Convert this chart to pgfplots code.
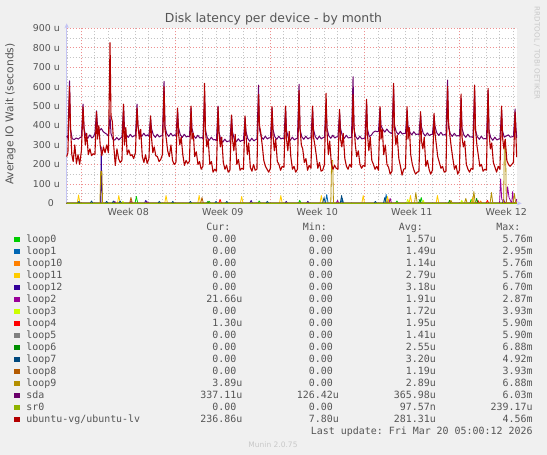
\documentclass[border=0pt]{standalone}
\usepackage{fontspec}
\setmainfont{DejaVu Sans}
\newfontfamily\monofont{DejaVu Sans Mono}
\usepackage{pgfplots}
\pgfplotsset{compat=1.18}
\usetikzlibrary{arrows.meta}
\frenchspacing

\definecolor{bg}{HTML}{F0F0F0}
\definecolor{txt}{HTML}{555555}
\definecolor{faint}{HTML}{C8C8C8}
\definecolor{axisline}{HTML}{C4C4F4}
\definecolor{majgrid}{HTML}{EE9090}
\definecolor{mingrid}{HTML}{C4C4C4}
% munin palette
\definecolor{cloop0}{HTML}{00CC00}
\definecolor{cloop1}{HTML}{0066B3}
\definecolor{cloop10}{HTML}{FF8000}
\definecolor{cloop11}{HTML}{FFCC00}
\definecolor{cloop12}{HTML}{330099}
\definecolor{cloop2}{HTML}{990099}
\definecolor{cloop3}{HTML}{CCFF00}
\definecolor{cloop4}{HTML}{FF0000}
\definecolor{cloop5}{HTML}{808080}
\definecolor{cloop6}{HTML}{008F00}
\definecolor{cloop7}{HTML}{00487D}
\definecolor{cloop8}{HTML}{B35A00}
\definecolor{cloop9}{HTML}{B38F00}
\definecolor{csda}{HTML}{6B006B}
\definecolor{csr}{HTML}{8FB300}
\definecolor{clv}{HTML}{B30000}

\newcommand{\z}{0.00\hphantom{u}}
% row, colour, name, cur, min, avg, max
\newcommand{\legrow}[7]{%
  \pgfmathsetmacro{\by}{212.5-12*#1}%
  \fill[#2] (14,\by+0.2) rectangle (20,\by+5.8);
  \node[anchor=base west] at (26.2,\by) {#3};
  \node[anchor=base east] at (242.6,\by) {#4};
  \node[anchor=base east] at (339,\by) {#5};
  \node[anchor=base east] at (436,\by) {#6};
  \node[anchor=base east] at (532.8,\by) {#7};
}

\begin{document}
\begin{tikzpicture}
\fill[bg] (0,0) rectangle (547bp,455bp);
\useasboundingbox (0,0) rectangle (547bp,455bp);

\begin{axis}[
  at={(66.7bp,251.7bp)}, anchor=south west,
  scale only axis, width=450bp, height=175bp,
  xmin=-1.06, xmax=32.27, ymin=0, ymax=900,
  clip=false,
  axis background/.style={fill=white},
  axis x line=bottom, axis y line=left,
  axis line style={draw=axisline, line width=0.8bp, -{Stealth[length=5bp,width=4.5bp]}, shorten >=-5bp},
  tick style={draw=none}, major tick length=0pt, minor tick length=0pt,
  xtick={3.5,10.5,17.5,24.5,31.5},
  xticklabels={Week 08,Week 09,Week 10,Week 11,Week 12},
  xticklabel style={font=\fontsize{9.5bp}{10bp}\selectfont, text=txt, anchor=base, yshift=-12.7bp},
  minor xtick={-1,0,...,32},
  extra x ticks={0,7,14,21,28}, extra x tick labels={},
  extra x tick style={grid=major},
  ytick={0,100,...,900},
  yticklabels={0\hphantom{u},100 u,200 u,300 u,400 u,500 u,600 u,700 u,800 u,900 u},
  yticklabel style={font=\fontsize{9.4bp}{10bp}\selectfont, text=txt, anchor=east, inner sep=0pt, xshift=-6.7bp},
  minor ytick={50,150,...,850},
  ymajorgrids, yminorgrids, xminorgrids,
  major grid style={draw=majgrid, line width=0.6bp, dash pattern=on 1bp off 2bp},
  minor grid style={draw=mingrid, line width=0.6bp, dash pattern=on 1bp off 2bp},
  every axis plot/.append style={line width=0.8bp, line join=round},
]
% loop devices: zero with short bursts
\addplot[cloop0] coordinates {(-1.06,0)(4.0,0)(4.1,35)(4.2,0)(9.4,0)(9.5,10)(9.6,0)(13.1,0)(13.2,12)(13.3,0)(16.1,0)(16.2,15)(16.3,0)(23.3,0)(23.4,12)(23.5,0)(25.1,0)(25.2,30)(25.3,0)(28.8,0)(28.9,20)(29.0,0)(32.27,0)};
\addplot[cloop1] coordinates {(-1.06,0)(18.1,0)(18.2,45)(18.3,0)(19.25,0)(19.35,25)(19.45,0)(22.5,0)(22.6,45)(22.7,0)(32.27,0)};
\addplot[cloop10] coordinates {(-1.06,0)(22.7,0)(22.8,20)(22.9,0)(29.5,0)(29.6,12)(29.7,0)(32.27,0)};
\addplot[cloop11] coordinates {(-1.06,0)(-0.28,0)(-0.18,43)(-0.08,0)(2.7,0)(2.8,40)(2.9,0)(6.2,0)(6.3,40)(6.4,0)(8.65,0)(8.75,40)(8.85,0)(11.8,0)(11.9,35)(12.0,0)(14.7,0)(14.8,40)(14.9,0)(17.7,0)(17.8,40)(17.9,0)(20.8,0)(20.9,40)(21.0,0)(22.6,0)(22.7,35)(22.8,0)(24.3,0)(24.4,40)(24.5,0)(26.3,0)(26.4,40)(26.5,0)(28.9,0)(29.0,30)(29.1,0)(32.27,0)};
\addplot[cloop12] coordinates {(-1.06,0)(1.44,0)(1.5,290)(1.56,0)(4.7,0)(4.8,15)(4.9,0)(12.5,0)(12.6,15)(12.7,0)(15.1,0)(15.2,10)(15.3,0)(16.7,0)(16.8,10)(16.9,0)(31.2,0)(31.3,20)(31.4,0)(32.27,0)};
\addplot[cloop2] coordinates {(-1.06,0)(2.4,0)(2.5,10)(2.6,0)(3.6,0)(3.7,12)(3.8,0)(4.85,0)(4.95,8)(5.05,0)(18.9,0)(19.0,15)(19.1,0)(22.8,0)(22.9,25)(23.0,0)(31.0,0)(31.08,125)(31.16,20)(31.5,0)(31.6,85)(31.7,30)(31.9,0)(31.97,60)(32.05,0)(32.2,0)(32.27,22)};
\addplot[cloop3] coordinates {(-1.06,0)(3.0,0)(3.1,10)(3.2,0)(24.1,0)(24.2,20)(24.3,0)(25.25,0)(25.35,15)(25.45,0)(28.1,0)(28.2,15)(28.3,0)(32.27,0)};
\addplot[cloop4] coordinates {(-1.06,0)(10.2,0)(10.3,20)(10.4,0)(29.3,0)(29.4,15)(29.5,0)(30.0,0)(30.1,15)(30.2,0)(32.27,1.3)};
\addplot[cloop5] coordinates {(-1.06,0)(32.27,0)};
\addplot[cloop6] coordinates {(-1.06,0)(9.3,0)(9.4,10)(9.5,0)(25.0,0)(25.1,20)(25.2,0)(27.2,0)(27.3,15)(27.4,0)(29.2,0)(29.3,25)(29.4,0)(32.27,0)};
\addplot[cloop7] coordinates {(-1.06,0)(-0.26,0)(-0.16,10)(-0.06,0)(0.68,0)(0.78,12)(0.88,0)(1.8,0)(1.9,10)(2.0,0)(2.3,0)(2.4,12)(2.5,0)(2.8,0)(2.9,12)(3.0,0)(5.7,0)(5.8,10)(5.9,0)(6.7,0)(6.8,10)(6.9,0)(8.0,0)(8.1,10)(8.2,0)(9.9,0)(10.0,10)(10.1,0)(10.7,0)(10.8,10)(10.9,0)(13.7,0)(13.8,10)(13.9,0)(17.9,0)(18.0,30)(18.1,0)(19.2,0)(19.3,40)(19.4,0)(21.7,0)(21.8,10)(21.9,0)(22.4,0)(22.5,30)(22.6,0)(32.27,0)};
\addplot[cloop8] coordinates {(-1.06,0)(3.6,0)(3.7,30)(3.8,0)(8.86,0)(8.96,30)(9.06,0)(32.27,0)};
\addplot[cloop9] coordinates {(-1.06,0)(1.4,0)(1.46,165)(1.54,165)(1.6,0)(18.5,0)(18.56,220)(18.64,220)(18.7,0)(24.7,0)(24.8,55)(24.9,0)(27.3,0)(27.4,15)(27.5,0)(28.4,0)(28.5,25)(28.6,0)(29.0,0)(29.1,60)(29.2,0)(30.3,0)(30.4,55)(30.5,0)(31.3,0)(31.36,320)(31.44,320)(31.5,0)(32.0,0)(32.1,50)(32.2,0)(32.27,3.9)};
% sda
\addplot[csda, line width=1bp] coordinates {
(-1.06,345)(-0.97,335)(-0.85,630)(-0.78,380)(-0.65,332)(-0.5,328)(-0.35,336)(-0.2,330)(-0.08,338)
(0.03,340)(0.15,510)(0.22,385)(0.35,348)(0.5,334)(0.65,352)(0.8,336)(0.92,342)
(1.03,360)(1.15,475)(1.22,400)(1.35,372)(1.5,385)(1.65,368)(1.8,360)(1.92,355)
(2.03,345)(2.15,450)(2.22,360)(2.35,330)(2.5,325)(2.65,338)(2.8,326)(2.92,335)
(3.03,340)(3.15,500)(3.22,390)(3.35,352)(3.5,339)(3.65,355)(3.8,341)(3.92,347)
(4.03,348)(4.15,510)(4.22,395)(4.35,358)(4.5,344)(4.65,360)(4.8,346)(4.92,352)
(5.03,345)(5.15,440)(5.22,385)(5.35,353)(5.5,339)(5.65,355)(5.8,341)(5.92,347)
(6.03,348)(6.15,627)(6.22,395)(6.35,358)(6.5,344)(6.65,360)(6.8,346)(6.92,352)
(7.03,347)(7.15,480)(7.22,390)(7.35,353)(7.5,339)(7.65,355)(7.8,341)(7.92,345)
(8.03,342)(8.15,490)(8.22,385)(8.35,348)(8.5,334)(8.65,350)(8.8,336)(8.92,338)
(9.03,333)(9.15,560)(9.22,375)(9.35,338)(9.5,324)(9.65,340)(9.8,326)(9.92,328)
(10.03,322)(10.15,500)(10.22,365)(10.35,328)(10.5,314)(10.65,330)(10.8,316)(10.92,320)
(11.03,320)(11.15,450)(11.22,367)(11.35,330)(11.5,316)(11.65,332)(11.8,318)(11.92,324)
(12.03,323)(12.15,440)(12.22,370)(12.35,333)(12.5,319)(12.65,335)(12.8,321)(12.92,327)
(13.03,330)(13.15,608)(13.22,380)(13.35,343)(13.5,329)(13.65,345)(13.8,331)(13.92,337)
(14.03,336)(14.15,490)(14.22,380)(14.35,343)(14.5,329)(14.65,345)(14.8,331)(14.92,335)
(15.03,333)(15.15,495)(15.22,375)(15.35,338)(15.5,324)(15.65,340)(15.8,326)(15.92,332)
(16.03,334)(16.15,612)(16.22,380)(16.35,343)(16.5,329)(16.65,345)(16.8,331)(16.92,337)
(17.03,336)(17.15,490)(17.22,380)(17.35,343)(17.5,329)(17.65,345)(17.8,331)(17.92,338)
(18.03,339)(18.15,520)(18.22,385)(18.35,348)(18.5,334)(18.65,350)(18.8,336)(18.92,342)
(19.03,341)(19.15,470)(19.22,385)(19.35,348)(19.5,334)(19.65,350)(19.8,336)(19.92,338)
(20.03,337)(20.15,651)(20.22,380)(20.35,343)(20.5,329)(20.65,345)(20.8,331)(20.92,334)
(21.03,335)(21.15,520)(21.22,380)(21.35,343)(21.5,350)(21.65,365)(21.8,372)(21.92,368)
(22.03,370)(22.15,490)(22.22,400)(22.35,380)(22.5,366)(22.65,382)(22.8,368)(22.92,362)
(23.03,358)(23.15,600)(23.22,400)(23.35,368)(23.5,354)(23.65,370)(23.8,356)(23.92,360)
(24.03,359)(24.15,480)(24.22,398)(24.35,366)(24.5,352)(24.65,368)(24.8,354)(24.92,356)
(25.03,353)(25.15,460)(25.22,392)(25.35,360)(25.5,346)(25.65,362)(25.8,348)(25.92,354)
(26.03,355)(26.15,450)(26.22,395)(26.35,363)(26.5,349)(26.65,365)(26.8,351)(26.92,353)
(27.03,351)(27.15,634)(27.22,390)(27.35,358)(27.5,344)(27.65,360)(27.8,346)(27.92,348)
(28.03,346)(28.15,540)(28.22,385)(28.35,353)(28.5,339)(28.65,355)(28.8,341)(28.92,342)
(29.03,338)(29.15,590)(29.22,375)(29.35,343)(29.5,329)(29.65,345)(29.8,331)(29.92,333)
(30.03,331)(30.15,580)(30.22,370)(30.35,338)(30.5,324)(30.65,340)(30.8,326)(30.92,330)
(31.03,333)(31.15,480)(31.22,372)(31.35,340)(31.5,346)(31.65,352)(31.8,340)(31.92,342)
(32.03,345)(32.15,485)(32.22,385)(32.27,337)
};
\addplot[csr] coordinates {(-1.06,0)(32.27,0)};
% ubuntu-vg/ubuntu-lv
\addplot[clv, line width=1.1bp] coordinates {
(-1.06,240)(-0.97,260)(-0.85,600)(-0.78,400)(-0.68,250)(-0.58,215)(-0.46,300)(-0.34,205)(-0.22,250)(-0.10,200)
(0.03,270)(0.15,495)(0.22,390)(0.32,300)(0.42,360)(0.54,250)(0.66,280)(0.78,245)(0.90,255)
(1.03,250)(1.15,470)(1.22,330)(1.32,400)(1.42,300)(1.54,245)(1.66,290)(1.78,260)(1.90,300)
(2.03,260)(2.15,826)(2.22,450)(2.32,420)(2.42,300)(2.54,195)(2.66,280)(2.78,230)(2.90,210)
(3.03,220)(3.15,510)(3.22,300)(3.32,390)(3.42,250)(3.54,275)(3.66,245)(3.78,250)(3.90,230)
(4.03,260)(4.15,490)(4.22,400)(4.32,330)(4.42,380)(4.54,240)(4.66,210)(4.78,250)(4.90,205)
(5.03,230)(5.15,450)(5.22,340)(5.32,260)(5.42,290)(5.54,245)(5.66,240)(5.78,215)(5.90,225)
(6.03,250)(6.15,600)(6.22,380)(6.32,330)(6.42,270)(6.54,240)(6.66,300)(6.78,220)(6.90,200)
(7.03,210)(7.15,490)(7.22,360)(7.32,300)(7.42,340)(7.54,250)(7.66,195)(7.78,220)(7.90,205)
(8.03,215)(8.15,500)(8.22,330)(8.32,360)(8.42,240)(8.54,265)(8.66,200)(8.78,215)(8.90,175)
(9.03,190)(9.15,617)(9.22,370)(9.32,290)(9.42,330)(9.54,200)(9.66,215)(9.78,160)(9.90,175)
(10.03,165)(10.15,495)(10.22,360)(10.32,290)(10.42,340)(10.54,210)(10.66,175)(10.78,195)(10.90,160)
(11.03,170)(11.15,454)(11.22,330)(11.32,270)(11.42,355)(11.54,200)(11.66,225)(11.78,170)(11.90,180)
(12.03,175)(12.15,449)(12.22,350)(12.32,250)(12.42,310)(12.54,185)(12.66,165)(12.78,200)(12.90,170)
(13.03,175)(13.15,560)(13.22,400)(13.32,360)(13.42,300)(13.54,220)(13.66,190)(13.78,175)(13.90,160)
(14.03,180)(14.15,497)(14.22,350)(14.32,270)(14.42,330)(14.54,215)(14.66,200)(14.78,170)(14.90,190)
(15.03,185)(15.15,500)(15.22,330)(15.32,270)(15.42,370)(15.54,240)(15.66,175)(15.78,190)(15.90,160)
(16.03,175)(16.15,580)(16.22,390)(16.32,300)(16.42,280)(16.54,210)(16.66,230)(16.78,170)(16.90,195)
(17.03,180)(17.15,500)(17.22,340)(17.32,300)(17.42,250)(17.54,180)(17.66,210)(17.78,165)(17.90,170)
(18.03,200)(18.15,566)(18.22,370)(18.32,250)(18.42,320)(18.54,205)(18.66,175)(18.78,195)(18.90,180)
(19.03,175)(19.15,483)(19.22,330)(19.32,290)(19.42,360)(19.54,230)(19.66,190)(19.78,175)(19.90,200)
(20.03,185)(20.15,560)(20.22,400)(20.32,300)(20.42,240)(20.54,270)(20.66,200)(20.78,180)(20.90,195)
(21.03,190)(21.15,535)(21.22,350)(21.32,270)(21.42,340)(21.54,220)(21.66,200)(21.78,175)(21.90,190)
(22.03,170)(22.15,497)(22.22,330)(22.32,380)(22.42,250)(22.54,300)(22.66,200)(22.78,185)(22.90,150)
(23.03,165)(23.15,617)(23.22,390)(23.32,300)(23.42,350)(23.54,230)(23.66,190)(23.78,145)(23.90,175)
(24.03,180)(24.15,497)(24.22,330)(24.32,390)(24.42,250)(24.54,200)(24.66,170)(24.78,150)(24.90,160)
(25.03,165)(25.15,471)(25.22,320)(25.32,280)(25.42,340)(25.54,190)(25.66,220)(25.78,175)(25.90,150)
(26.03,170)(26.15,463)(26.22,360)(26.32,300)(26.42,240)(26.54,210)(26.66,180)(26.78,190)(26.90,160)
(27.03,165)(27.15,600)(27.22,420)(27.32,350)(27.42,290)(27.54,230)(27.66,175)(27.78,195)(27.90,150)
(28.03,170)(28.15,562)(28.22,340)(28.32,290)(28.42,320)(28.54,200)(28.66,175)(28.78,160)(28.90,180)
(29.03,175)(29.15,608)(29.22,380)(29.32,300)(29.42,250)(29.54,190)(29.66,200)(29.78,165)(29.90,175)
(30.03,170)(30.15,591)(30.22,360)(30.32,280)(30.42,310)(30.54,210)(30.66,185)(30.78,160)(30.90,190)
(31.03,175)(31.15,500)(31.22,340)(31.32,280)(31.42,330)(31.54,220)(31.66,200)(31.78,190)(31.90,200)
(32.03,210)(32.15,470)(32.22,330)(32.27,237)
};
\end{axis}

\begin{scope}[x=1bp, y=1bp]
\node[anchor=base, text=txt, font=\fontsize{12.4bp}{14bp}\selectfont] at (273.5,432) {Disk latency per device - by month};
\node[rotate=90, text=txt, font=\fontsize{10.7bp}{12bp}\selectfont] at (10.5,341) {Average IO Wait (seconds)};
\node[rotate=-90, text=faint, font=\fontsize{7.2bp}{8bp}\selectfont] at (537,401.7) {RRDTOOL / TOBI OETIKER};
\node[anchor=base, text=faint, font=\fontsize{7.5bp}{8bp}\selectfont] at (273,7.5) {Munin 2.0.75};
\begin{scope}[every node/.style={inner sep=0pt, text=txt, font=\monofont\fontsize{9.95bp}{12bp}\selectfont}]
\node[anchor=base east] at (230.6,224.5) {Cur:};
\node[anchor=base east] at (327,224.5) {Min:};
\node[anchor=base east] at (423,224.5) {Avg:};
\node[anchor=base east] at (520.6,224.5) {Max:};
\legrow{0}{cloop0}{loop0}{\z}{\z}{1.57u}{5.76m}
\legrow{1}{cloop1}{loop1}{\z}{\z}{1.49u}{2.95m}
\legrow{2}{cloop10}{loop10}{\z}{\z}{1.14u}{5.76m}
\legrow{3}{cloop11}{loop11}{\z}{\z}{2.79u}{5.76m}
\legrow{4}{cloop12}{loop12}{\z}{\z}{3.18u}{6.70m}
\legrow{5}{cloop2}{loop2}{21.66u}{\z}{1.91u}{2.87m}
\legrow{6}{cloop3}{loop3}{\z}{\z}{1.72u}{3.93m}
\legrow{7}{cloop4}{loop4}{1.30u}{\z}{1.95u}{5.90m}
\legrow{8}{cloop5}{loop5}{\z}{\z}{1.41u}{5.90m}
\legrow{9}{cloop6}{loop6}{\z}{\z}{2.55u}{6.88m}
\legrow{10}{cloop7}{loop7}{\z}{\z}{3.20u}{4.92m}
\legrow{11}{cloop8}{loop8}{\z}{\z}{1.19u}{3.93m}
\legrow{12}{cloop9}{loop9}{3.89u}{\z}{2.89u}{6.88m}
\legrow{13}{csda}{sda}{337.11u}{126.42u}{365.98u}{6.03m}
\legrow{14}{csr}{sr0}{\z}{\z}{97.57n}{239.17u}
\legrow{15}{clv}{ubuntu-vg/ubuntu-lv}{236.86u}{7.80u}{281.31u}{4.56m}
\node[anchor=base east] at (532.8,20.5) {Last update: Fri Mar 20 05:00:12 2026};
\end{scope}
\end{scope}
\end{tikzpicture}
\end{document}
